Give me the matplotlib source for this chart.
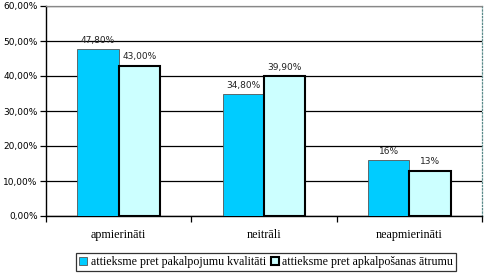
import numpy as np
import matplotlib.pyplot as plt

categories = ['apmierināti', 'neitrāli', 'neapmierināti']
kvalitate = [47.8, 34.8, 16]
atrums = [43.0, 39.9, 13]
labels_kval = ['47,80%', '34,80%', '16%']
labels_atr = ['43,00%', '39,90%', '13%']
series_names = ['attieksme pret pakalpojumu kvalitāti', 'attieksme pret apkalpošanas ātrumu']
yticks = [0, 10, 20, 30, 40, 50, 60]

fig = plt.figure(figsize=(4.87, 2.77), dpi=100)
ax = fig.add_axes([46/487, 1-216/277, 436/487, 210/277])

x = np.arange(len(categories))
w = 0.285
b1 = ax.bar(x - w/2, kvalitate, w, color='#00CCFF', edgecolor='#555555', linewidth=0.6, zorder=3,
            label=series_names[0])
b2 = ax.bar(x + w/2, atrums, w, color='#CCFFFF', edgecolor='black', linewidth=1.5, zorder=3,
            label=series_names[1])

for rect, t in zip(b1, labels_kval):
    ax.text(rect.get_x() + rect.get_width()/2, rect.get_height() + 1.2, t,
            ha='center', va='bottom', fontsize=6.5, color='#222222')
for rect, t in zip(b2, labels_atr):
    ax.text(rect.get_x() + rect.get_width()/2, rect.get_height() + 1.2, t,
            ha='center', va='bottom', fontsize=6.5, color='#222222')

ax.set_xlim(-0.5, 2.5)
ax.set_ylim(0, 60)
ax.set_yticks(yticks)
ax.set_yticklabels([f'{v},00%' for v in yticks], fontsize=6.5)
ax.yaxis.grid(True, color='black', linewidth=0.9, zorder=0)
ax.set_axisbelow(True)

ax.set_xticks([-0.5, 0.5, 1.5, 2.5])
ax.set_xticklabels([])
ax.tick_params(axis='x', length=4, width=0.9, direction='out')
ax.tick_params(axis='y', length=4, width=0.9, direction='out', pad=2)
for i, c in enumerate(categories):
    ax.text(i, -5.4, c, ha='center', va='center', fontsize=8.7, family='Liberation Serif')

ax.spines['left'].set_linewidth(1.0)
ax.spines['bottom'].set_linewidth(1.0)
ax.spines['top'].set_color('#888888')
ax.spines['top'].set_linewidth(0.9)
ax.spines['right'].set_color('#5a8a8a')
ax.spines['right'].set_linestyle(':')
ax.spines['right'].set_linewidth(0.9)

leg = fig.legend(loc='center', bbox_to_anchor=(266/487, 1-262/277), ncol=2,
                 prop={'family': 'Liberation Serif', 'size': 8.6},
                 frameon=True, fancybox=False, edgecolor='black',
                 handlelength=0.7, handleheight=0.7, handletextpad=0.3,
                 columnspacing=0.4, borderpad=0.25)
leg.get_frame().set_linewidth(0.9)

fig.savefig('out.png', dpi=100)
